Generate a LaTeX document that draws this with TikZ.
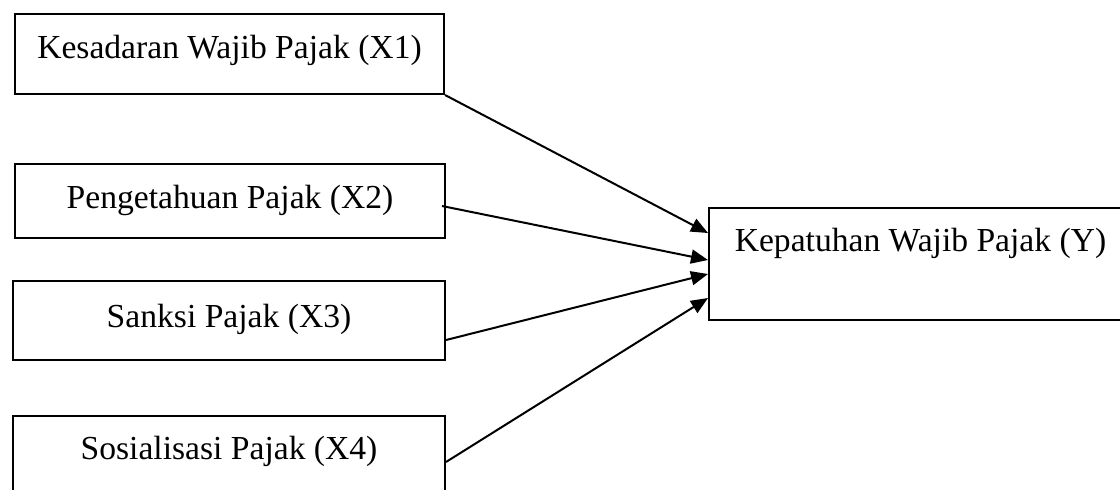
\documentclass[tikz,border=0pt]{standalone}
\usepackage{fontspec}
\setmainfont{Liberation Serif}
\usetikzlibrary{arrows.meta}

\begin{document}
\begin{tikzpicture}[
    x=1pt, y=-1pt,
    font=\fontsize{33.6}{40}\selectfont,
    var/.style={draw=black, line width=2pt, inner sep=0pt, anchor=north west},
    edge/.style={-{Triangle[length=17pt, width=14pt]}, line width=2pt}
]
    \clip (0,0) rectangle (1120,490);

    \node[var, minimum width=429pt, text height=44pt, text depth=36pt] (X1) at (14,13) {Kesadaran Wajib Pajak (X1)};
    \node[var, minimum width=430pt, text height=44pt, text depth=30pt] (X2) at (14,163) {Pengetahuan Pajak (X2)};
    \node[var, minimum width=432pt, text height=46pt, text depth=33pt] (X3) at (12,280) {Sanksi Pajak (X3)};
    \node[var, minimum width=432pt, text height=43pt, text depth=50pt] (X4) at (12,415) {Sosialisasi Pajak (X4)};
    \node[var, minimum width=423pt, text height=43pt, text depth=69pt] (Y) at (708,207) {Kepatuhan Wajib Pajak (Y)};

    \draw[edge] (X1.south east) -- ([yshift=31pt]Y.west);
    \draw[edge] ([xshift=-4pt, yshift=-5pt]X2.east) -- ([yshift=4pt]Y.west);
    \draw[edge] ([yshift=21pt]X3.south east) -- ([yshift=-10pt]Y.west);
    \draw[edge] ([yshift=-47pt]X4.north east) -- ([yshift=-34pt]Y.west);
\end{tikzpicture}
\end{document}
